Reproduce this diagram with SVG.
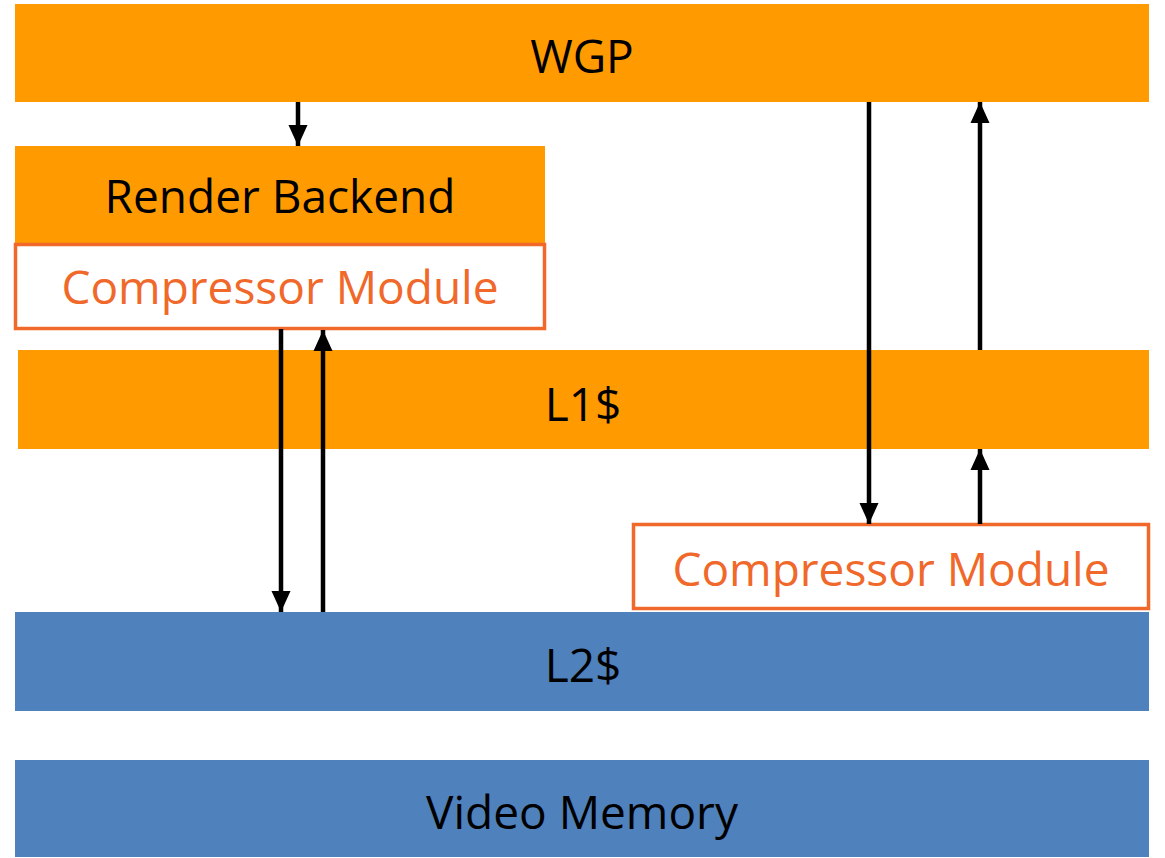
<svg xmlns="http://www.w3.org/2000/svg" width="1165" height="858" viewBox="0 0 1165 858">
<defs>
<marker id="ah" markerUnits="userSpaceOnUse" markerWidth="22" markerHeight="22" viewBox="0 0 22 22" refX="21" refY="11" orient="auto">
<path d="M0,1.5 L21,11 L0,20.5 Z" fill="#000"/>
</marker>
<style>
.or{fill:#FF9A00}
.bl{fill:#4F81BD}
.cm{fill:#fff;stroke:#F0682A;stroke-width:3.5}
.t{font-family:"Open Sans","Liberation Sans",sans-serif;font-size:46px;text-anchor:middle;fill:#000}
.ct{fill:#F0682A}
.c{stroke:#000;stroke-width:4.5;fill:none;marker-end:url(#ah)}
</style>
</defs>
<rect width="1165" height="858" fill="#fff"/>
<g id="wgp"><rect class="or" x="15" y="4" width="1134" height="98"/><text class="t" x="582" y="73">WGP</text></g>
<g id="render-backend"><rect class="or" x="15" y="146" width="530" height="98"/><text class="t" x="280" y="213">Render Backend</text></g>
<g id="compressor-left"><rect class="cm" x="15.5" y="244.5" width="529" height="84"/><text class="t ct" x="280" y="304">Compressor Module</text></g>
<g id="l1"><rect class="or" x="18" y="350" width="1131" height="99"/><text class="t" x="583" y="421">L1$</text></g>
<g id="compressor-right"><rect class="cm" x="633.5" y="524.5" width="515" height="84"/><text class="t ct" x="891" y="586">Compressor Module</text></g>
<g id="l2"><rect class="bl" x="15" y="612" width="1134" height="99"/><text class="t" x="583" y="682">L2$</text></g>
<g id="video-memory"><rect class="bl" x="15" y="760" width="1134" height="97"/><text class="t" x="582" y="829">Video Memory</text></g>
<g id="connectors">
<line class="c" x1="298" y1="102" x2="298" y2="146"/>
<line class="c" x1="281" y1="329" x2="281" y2="612"/>
<line class="c" x1="323" y1="612" x2="323" y2="330"/>
<line class="c" x1="869" y1="102" x2="869" y2="524"/>
<line class="c" x1="980" y1="350" x2="980" y2="102"/>
<line class="c" x1="980" y1="524" x2="980" y2="449"/>
</g>
</svg>
